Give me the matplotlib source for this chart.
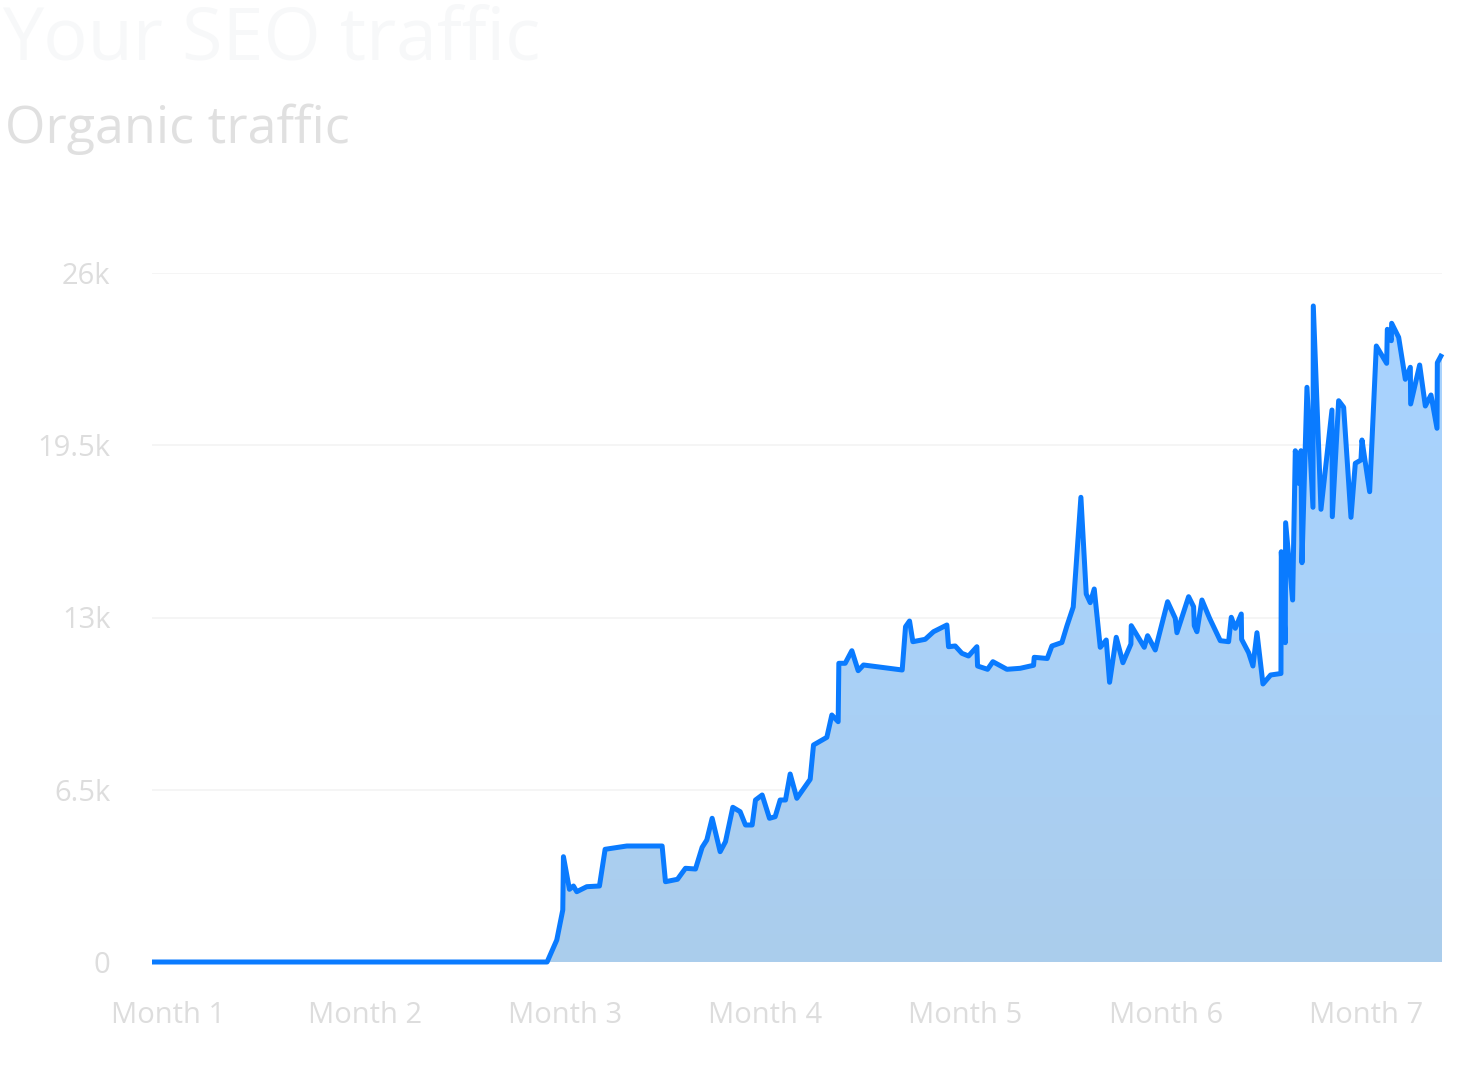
import numpy as np
import matplotlib
matplotlib.use("Agg")
import matplotlib.pyplot as plt
from matplotlib.colors import LinearSegmentedColormap

# ---- data ----
days = [0, 59.25, 60.7, 61.6, 61.7, 62.6, 63.2, 63.7, 65.2, 67.1, 67.95, 71.2, 76.5, 77.0,
        78.8, 80.0, 81.5, 82.5, 83.2, 84.0, 85.2, 86.0, 87.1, 88.2, 89.0, 90.0, 90.5, 91.5,
        92.6, 93.45, 94.2, 95.0, 95.7, 96.7, 98.7, 99.2, 101.2, 101.95, 102.9, 103.0, 103.95,
        104.95, 105.9, 106.7, 112.5, 113.0, 113.6, 114.1, 115.95, 117.2, 119.2, 119.45, 120.45,
        121.45, 122.45, 123.7, 123.8, 125.3, 126.1, 128.2, 130.2, 132.2, 132.3, 134.25, 134.95,
        136.45, 137.2, 138.15, 139.3, 140.1, 140.7, 141.3, 142.2, 143.1, 143.6, 144.6, 145.6,
        146.8, 146.85, 148.8, 149.3, 150.45, 152.3, 153.45, 153.7, 155.45, 156.2, 156.3, 156.7,
        157.45, 158.6, 160.2, 161.45, 161.85, 162.45, 163.35, 163.4, 164.45, 165.1, 165.7,
        166.6, 167.75, 169.3, 169.35, 169.95, 170.0, 171.05, 171.45, 171.95, 172.3, 172.45,
        173.2, 174.1, 174.15, 175.3, 176.95, 177.0, 177.95, 178.7, 179.8, 180.45, 181.3,
        181.45, 182.6, 183.6, 185.15, 185.25, 185.85, 185.9, 186.95, 187.95, 188.7, 188.75,
        190.1, 190.95, 191.8, 192.7, 192.75, 193.45]
traffic = [0, 0, 830, 1962, 3974, 2743, 2868, 2653, 2842, 2868, 4253, 4377, 4377, 3030,
           3121, 3536, 3509, 4328, 4604, 5423, 4162, 4540, 5838, 5672, 5170, 5170, 6113, 6302,
           5423, 5483, 6113, 6113, 7094, 6177, 6894, 8189, 8479, 9321, 9068, 11272, 11272,
           11747, 10993, 11208, 11019, 12653, 12868, 12087, 12177, 12464, 12717, 11898, 11925,
           11649, 11547, 11898, 11170, 11045, 11332, 11045, 11083, 11196, 11498, 11453, 11925,
           12057, 12679, 13396, 17536, 13887, 13559, 14076, 11875, 12151, 10555, 12253, 11294,
           12000, 12691, 11875, 12313, 11774, 13596, 12970, 12426, 13785, 13408, 12691, 12464,
           13660, 12970, 12125, 12087, 13008, 12592, 13132, 12177, 11672, 11170, 12426,
           10491, 10830, 10887, 15483, 12049, 16577, 13660, 19294, 18064, 19294, 15068,
           21687, 17158, 24755, 17083, 20830, 16804, 21181, 20932, 16781, 18819, 18943,
           19698, 17747, 23245, 22592, 23875, 23445, 24102, 23574, 21989, 22442, 21057,
           22528, 20981, 21396, 20140, 22615, 22943]
month_ticks = [2.4, 32, 62, 92, 122, 152, 182]
month_labels = ["Month 1", "Month 2", "Month 3", "Month 4", "Month 5", "Month 6", "Month 7"]
y_ticks = [0, 6500, 13000, 19500, 26000]
y_labels = ["0", "6.5k", "13k", "19.5k", "26k"]
title = "Your SEO traffic"
subtitle = "Organic traffic"

FONT = ["Open Sans", "DejaVu Sans"]
plt.rcParams["font.family"] = FONT

W, H = 1472, 1084
fig = plt.figure(figsize=(W / 100, H / 100), dpi=100)
fig.patch.set_facecolor("white")

ax = fig.add_axes([152 / W, (H - 962) / H, (1442 - 152) / W, (962 - 273) / H])
ax.set_xlim(0, days[-1])
ax.set_ylim(0, 26000)

x = np.array(days)
y = np.array(traffic)

# gradient fill clipped to the area under the curve
poly = ax.fill_between(x, 0, y, facecolor="none", edgecolor="none", zorder=1)
cmap = LinearSegmentedColormap.from_list("g", ["#abcdec", "#a9d1f8", "#a8d3ff"])
grad = np.linspace(0, 1, 256).reshape(-1, 1)
img = ax.imshow(grad, extent=[0, days[-1], 0, max(traffic)], origin="lower",
                aspect="auto", cmap=cmap, zorder=1)
img.set_clip_path(poly.get_paths()[0], transform=ax.transData)

# grid lines
for t in y_ticks[1:]:
    ax.axhline(t, color="#f3f3f3", lw=1.2, zorder=0.5)

ax.plot(x, y, color="#0a7bff", lw=3.6, solid_joinstyle="round",
        solid_capstyle="butt", zorder=3, clip_on=False)

for s in ax.spines.values():
    s.set_visible(False)
ax.set_xticks(month_ticks)
ax.set_xticklabels(month_labels)
ax.set_yticks(y_ticks)
ax.set_yticklabels(y_labels)
ax.tick_params(axis="both", length=0, labelsize=21, colors="#dddddd")
ax.tick_params(axis="y", pad=30)
ax.tick_params(axis="x", pad=28)
ax.set_facecolor("none")

fig.text(2 / W, 1 - 59 / H, title, fontsize=53, color="#f7f8f9", ha="left", va="baseline")
fig.text(5 / W, 1 - 143 / H, subtitle, fontsize=37.5, color="#e0e0e0", ha="left", va="baseline")

fig.savefig("out.png", dpi=100, facecolor="white")
